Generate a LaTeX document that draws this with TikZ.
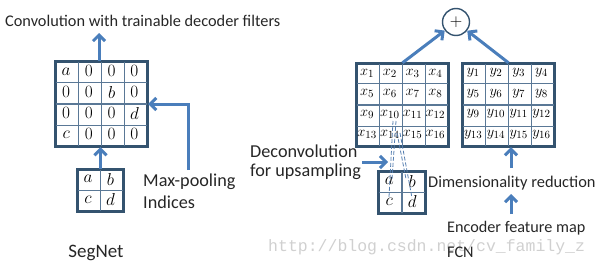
\documentclass[tikz,border=0pt]{standalone}
\usepackage{fontspec}
\setmainfont{Carlito}
\newfontfamily\wmfont{Liberation Mono}
\usetikzlibrary{arrows.meta,calc}
\definecolor{arrowblue}{HTML}{4A7EBB}
\definecolor{gridedge}{HTML}{34536F}
\definecolor{gridline}{HTML}{5A7896}
\definecolor{wmgray}{HTML}{D0D0D0}
\tikzset{
  gridbox/.style={draw=gridedge, line width=2.4pt, inner sep=0pt, rectangle},
  innerline/.style={draw=gridline, line width=1.1pt},
  cell/.style={inner sep=0pt, font=\fontsize{17}{19}\selectfont},
  xcell/.style={inner sep=0pt, font=\fontsize{15.5}{17}\selectfont},
  flow/.style={draw=arrowblue, line width=3pt, -{Straight Barb[length=6pt,width=12pt]}},
  lbl/.style={inner sep=0pt, anchor=west, text=black!85},
  small/.style={font=\fontsize{16.3}{18}\selectfont},
  big/.style={font=\fontsize{18.2}{20}\selectfont},
  dashline/.style={draw=arrowblue!80!gray, line width=0.8pt, dash pattern=on 4pt off 2pt},
}
\begin{document}
\begin{tikzpicture}[x=1pt,y=-1pt]
\useasboundingbox (0,0) rectangle (599,268);

% watermark
\node[inner sep=0pt, anchor=west, text=wmgray, font=\wmfont\fontsize{16.5}{18}\selectfont] (wm) at (268,247) {http://blog.csdn.net/cv\_family\_z};

% ---------- SegNet ----------
\node[gridbox, minimum width=91pt, minimum height=84pt] (G) at (101.5,104) {};
\node[gridbox, minimum width=45pt, minimum height=41pt] (S) at (100.5,190.5) {};
\foreach \i in {1,2,3}{
  \draw[innerline] ($(G.north west)!{\i/4}!(G.north east)$) -- ($(G.south west)!{\i/4}!(G.south east)$);
  \draw[innerline] ($(G.north west)!{\i/4}!(G.south west)$) -- ($(G.north east)!{\i/4}!(G.south east)$);
}
\draw[innerline] (S.north) -- (S.south);
\draw[innerline] (S.west) -- (S.east);
\draw[draw=gridedge, line width=2.4pt] (G.north west) rectangle (G.south east);
\draw[draw=gridedge, line width=2.4pt] (S.north west) rectangle (S.south east);
\foreach \t [count=\k from 0] in {a,0,0,0,0,0,b,0,0,0,0,d,c,0,0,0}{
  \pgfmathtruncatemacro\c{mod(\k,4)}
  \pgfmathtruncatemacro\r{div(\k,4)}
  \node[cell] (G-\k) at ($(G.north west)+({(\c+0.5)*91/4},{(\r+0.5)*84/4})$) {$\t$};
}
\foreach \t [count=\k from 0] in {a,b,c,d}{
  \pgfmathtruncatemacro\c{mod(\k,2)}
  \pgfmathtruncatemacro\r{div(\k,2)}
  \node[cell] (S-\k) at ($(S.north west)+({(\c+0.5)*45/2},{(\r+0.5)*41/2})$) {$\t$};
}
\coordinate (convtop) at (99,33);
\draw[flow] (G.north -| convtop) -- (convtop);
\draw[flow] (S.north) -- (S.north |- G.south);
\coordinate (mpstart) at (188,170);
\draw[flow] (mpstart) -- (mpstart |- G.east) -- (G.east);

\node[lbl, small] (convlbl) at (5,21) {Convolution with trainable decoder filters};
\node[lbl, big] (mp1) at (143,182) {Max-pooling};
\node[lbl, big] (mp2) at (143,202.5) {Indices};
\node[lbl, anchor=center, font=\fontsize{19}{21}\selectfont] (segnet) at (96,253) {SegNet};

% ---------- FCN ----------
\node[gridbox, minimum width=91pt, minimum height=82pt] (X) at (402.5,105) {};
\node[gridbox, minimum width=91pt, minimum height=82pt] (Y) at (508.5,105) {};
\node[gridbox, minimum width=46pt, minimum height=41pt] (F) at (402,192.5) {};
\foreach \i in {1,2,3}{
  \draw[innerline] ($(X.north west)!{\i/4}!(X.north east)$) -- ($(X.south west)!{\i/4}!(X.south east)$);
  \draw[innerline] ($(X.north west)!{\i/4}!(X.south west)$) -- ($(X.north east)!{\i/4}!(X.south east)$);
  \draw[innerline] ($(Y.north west)!{\i/4}!(Y.north east)$) -- ($(Y.south west)!{\i/4}!(Y.south east)$);
  \draw[innerline] ($(Y.north west)!{\i/4}!(Y.south west)$) -- ($(Y.north east)!{\i/4}!(Y.south east)$);
}
\draw[innerline] (F.north) -- (F.south);
\draw[innerline] (F.west) -- (F.east);
\draw[draw=gridedge, line width=2.4pt] (X.north west) rectangle (X.south east);
\draw[draw=gridedge, line width=2.4pt] (Y.north west) rectangle (Y.south east);
\draw[draw=gridedge, line width=2.4pt] (F.north west) rectangle (F.south east);
\foreach \k in {0,...,15}{
  \pgfmathtruncatemacro\c{mod(\k,4)}
  \pgfmathtruncatemacro\r{div(\k,4)}
  \pgfmathtruncatemacro\n{\k+1}
  \node[xcell] (X-\n) at ($(X.north west)+({(\c+0.5)*91/4},{(\r+0.5)*82/4})$) {$x_{\n}$};
  \node[xcell] (Y-\n) at ($(Y.north west)+({(\c+0.5)*91/4},{(\r+0.5)*82/4})$) {$y_{\n}$};
}
\foreach \t [count=\k from 0] in {a,b,c,d}{
  \pgfmathtruncatemacro\c{mod(\k,2)}
  \pgfmathtruncatemacro\r{div(\k,2)}
  \node[cell] (F-\k) at ($(F.north west)+({(\c+0.5)*46/2},{(\r+0.5)*41/2})$) {$\t$};
}

% dashed deconvolution lines
\coordinate (da1) at (393,121); \coordinate (da2) at (389,197);
\coordinate (db1) at (396,121); \coordinate (db2) at (392,179);
\coordinate (dc1) at (397,133); \coordinate (dc2) at (406,179);
\coordinate (dd1) at (400,133); \coordinate (dd2) at (412,198);
\draw[dashline] (da1) -- (da2);
\draw[dashline] (db1) -- (db2);
\draw[dashline] (dc1) -- (dc2);
\draw[dashline] (dd1) -- (dd2);

% plus node
\node[circle, draw=gridedge, line width=1.4pt, minimum size=27pt, inner sep=0pt, font=\fontsize{17}{18}\selectfont] (P) at (456,22) {$+$};
\draw[flow] (X.north) -- (P);
\draw[flow] (Y.north) -- (P);

% deconvolution arrow
\coordinate (dcs) at (362,162);
\coordinate (dce) at (388,162);
\draw[flow] (dcs) -- (dce);

% dimensionality arrows
\coordinate (dr1) at (511,168);
\coordinate (dr2) at (511,214);
\coordinate (dr3) at (511,194);
\draw[flow] (dr1) -- (dr1 |- Y.south);
\draw[flow] (dr2) -- (dr3);

\node[lbl, big] (dc1l) at (250,151.5) {Deconvolution};
\node[lbl, big] (dc2l) at (250,172) {for upsampling};
\node[lbl, font=\fontsize{16.4}{18}\selectfont] (drl) at (428,183.5) {Dimensionality reduction};
\node[lbl, font=\fontsize{16.2}{18}\selectfont] (efm) at (447,228) {Encoder feature map};
\node[lbl, font=\fontsize{16.2}{18}\selectfont] (fcn) at (447,252) {FCN};
\end{tikzpicture}
\end{document}
